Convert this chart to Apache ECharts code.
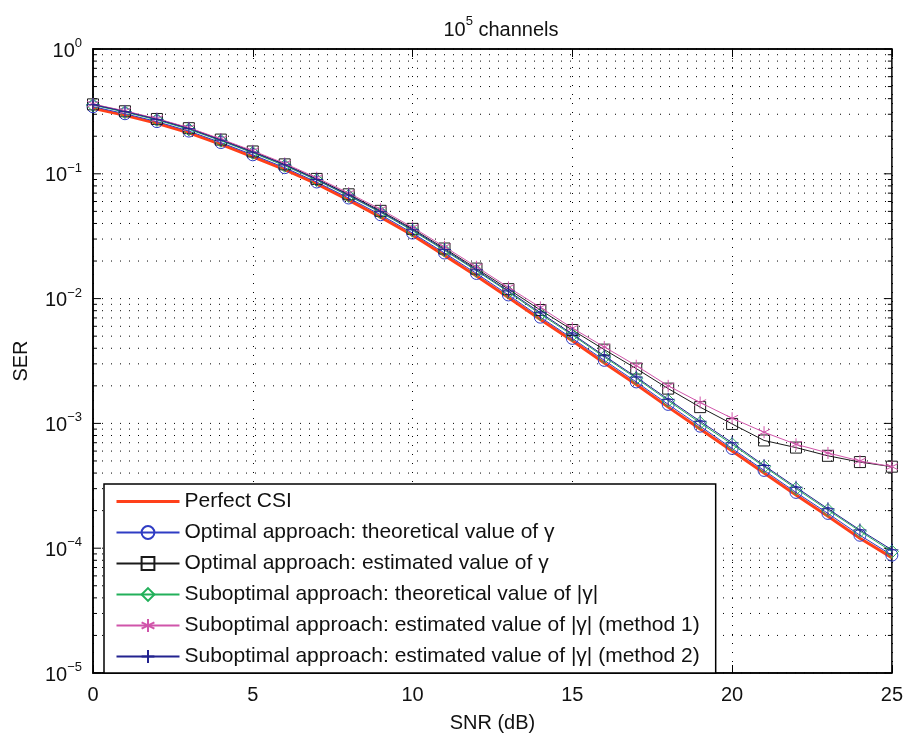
<!DOCTYPE html>
<html>
<head>
<meta charset="utf-8">
<script src="https://cdn.jsdelivr.net/npm/echarts@6/dist/echarts.min.js"></script>
<style>html,body{margin:0;padding:0;background:#fff}#c{width:906px;height:738px}</style>
</head>
<body>
<div id="c"></div>
<script>
// ---- data ----
const snr = [0,1,2,3,4,5,6,7,8,9,10,11,12,13,14,15,16,17,18,19,20,21,22,23,24,25];
const perfectCSI = [0.335,0.294,0.254,0.213,0.172,0.137,0.108,0.083,0.0615,0.045,0.0322,0.0222,0.0152,0.0102,0.0068,0.0046,0.00305,0.00205,0.00135,0.0009,0.0006,0.0004,0.000267,0.00018,0.00012,0.000084];
const optTheo = [0.345,0.303,0.262,0.220,0.178,0.142,0.112,0.086,0.064,0.047,0.0335,0.0232,0.0159,0.0107,0.0071,0.0048,0.0032,0.00215,0.00142,0.00095,0.00063,0.00042,0.00028,0.00019,0.000127,0.000088];
const optEst = [0.36,0.317,0.275,0.232,0.188,0.151,0.119,0.091,0.0685,0.0505,0.0362,0.0252,0.0174,0.0119,0.0081,0.0056,0.0039,0.00275,0.0019,0.00135,0.00099,0.00073,0.00064,0.00055,0.00049,0.00045];
const subTheo = [0.355,0.312,0.27,0.227,0.184,0.147,0.116,0.089,0.0665,0.049,0.035,0.0243,0.0167,0.0113,0.0075,0.0051,0.0034,0.0023,0.00152,0.00101,0.00068,0.00045,0.0003,0.000202,0.000137,0.000094];
const subEst1 = [0.362,0.319,0.277,0.234,0.19,0.153,0.121,0.093,0.07,0.052,0.0372,0.026,0.018,0.0123,0.0085,0.0058,0.0041,0.0029,0.002,0.00147,0.0011,0.00085,0.00068,0.00058,0.0005,0.00045];
const subEst2 = [0.358,0.315,0.273,0.23,0.186,0.149,0.118,0.09,0.0675,0.0497,0.0356,0.0247,0.017,0.0115,0.0077,0.0052,0.00348,0.00235,0.00156,0.00104,0.0007,0.00046,0.000308,0.000207,0.00014,0.000097];
const seriesNames = [
  'Perfect CSI',
  'Optimal approach: theoretical value of γ',
  'Optimal approach: estimated value of γ',
  'Suboptimal approach: theoretical value of |γ|',
  'Suboptimal approach: estimated value of |γ| (method 1)',
  'Suboptimal approach: estimated value of |γ| (method 2)'
];
const xTicks = [0,5,10,15,20,25];
const yDecades = [-5,-4,-3,-2,-1,0];

// ---- grid helper values (log minor lines) ----
const yGridVals = [];
for (let e = -5; e <= 0; e++) {
  for (let m = 1; m <= 9; m++) {
    const v = m * Math.pow(10, e);
    if (v <= 1.0000001) yGridVals.push([0, v, m === 1 ? 1 : 0]);
  }
}

const FONT = 'Liberation Sans, Arial, Helvetica, sans-serif';
const pair = arr => snr.map((x, i) => [x, arr[i]]);

const colors = ['#ff401a', '#2f3cc4', '#1a1a1a', '#22b05a', '#d055aa', '#23238f'];
const asterisk = 'path://M5 0L5 10M0.67 2.5L9.33 7.5M0.67 7.5L9.33 2.5';
const plus = 'path://M5 0L5 10M0 5L10 5';

function mk(idx, data, symbol, size) {
  return {
    name: seriesNames[idx], type: 'line', data: pair(data),
    symbol: symbol, symbolSize: size, showSymbol: true,
    lineStyle: {color: colors[idx], width: 1},
    itemStyle: {color: 'rgba(0,0,0,0)', borderColor: colors[idx], borderWidth: 1},
    z: 3 + idx, animation: false
  };
}

const legendData = seriesNames.map((n, i) => i === 0 ? {name: n, lineStyle: {width: 3, color: colors[0]}} : {name: n});

const chart = echarts.init(document.getElementById('c'), null, {renderer: 'canvas'});
chart.setOption({
  backgroundColor: '#fff',
  animation: false,
  textStyle: {fontFamily: FONT},
  title: {
    text: '{b|10}{s|5}{b| channels}',
    left: 496, top: 10, textAlign: 'center',
    textStyle: {
      fontWeight: 'normal',
      rich: {
        b: {fontSize: 20, fontFamily: FONT, color: '#111', fontWeight: 'normal', lineHeight: 25, verticalAlign: 'bottom'},
        s: {fontSize: 13, fontFamily: FONT, color: '#111', fontWeight: 'normal', lineHeight: 13, verticalAlign: 'top'}
      }
    }
  },
  grid: {left: 93, right: 14, top: 49, bottom: 59, show: true, borderColor: '#000', borderWidth: 1.5, backgroundColor: 'transparent'},
  xAxis: [{
    type: 'value', min: 0, max: 25, interval: 5,
    name: 'SNR (dB)', nameLocation: 'middle', nameGap: 40,
    nameTextStyle: {fontSize: 20, color: '#111', fontFamily: FONT},
    axisLine: {show: true, lineStyle: {color: '#000', width: 1.5}},
    axisTick: {show: true, inside: true, length: 8, lineStyle: {color: '#000'}},
    axisLabel: {fontSize: 20, color: '#111', margin: 12, fontFamily: FONT},
    splitLine: {show: true, lineStyle: {color: '#000', type: [1, 8], width: 1}}
  }, {
    type: 'value', min: 0, max: 25, interval: 5, position: 'top',
    axisLine: {show: true, lineStyle: {color: '#000', width: 1.5}},
    axisTick: {show: true, inside: true, length: 8, lineStyle: {color: '#000'}},
    axisLabel: {show: false}, splitLine: {show: false}
  }],
  yAxis: [{
    type: 'log', logBase: 10, min: 1e-5, max: 1,
    name: 'SER', nameLocation: 'middle', nameGap: 62,
    nameTextStyle: {fontSize: 20, color: '#111', fontFamily: FONT},
    axisLine: {show: true, lineStyle: {color: '#000', width: 1.5}},
    axisTick: {show: false},
    axisLabel: {
      margin: 11, fontFamily: FONT,
      formatter: v => {
        const e = Math.round(Math.log10(v));
        return '{b|10}{s|' + (e < 0 ? '\u2212' + (-e) : e) + '}';
      },
      rich: {
        b: {fontSize: 20, color: '#111', fontFamily: FONT, lineHeight: 24, verticalAlign: 'bottom'},
        s: {fontSize: 13, color: '#111', fontFamily: FONT, lineHeight: 13, verticalAlign: 'top'}
      }
    },
    splitLine: {show: false}
  }],
  legend: {
    orient: 'vertical', left: 104, top: 484,
    data: legendData,
    itemWidth: 63, itemHeight: 16, itemGap: 10,
    padding: [7, 16, 6, 11],
    backgroundColor: '#fff', borderColor: '#000', borderWidth: 1.5,
    textStyle: {fontSize: 21, color: '#111', fontFamily: FONT, lineHeight: 21},
    z: 20
  },
  series: [
    {
      type: 'custom', silent: true, z: 1,
      data: yGridVals, clip: false,
      renderItem: (params, api) => {
        const v = api.value(1);
        const major = api.value(2) === 1;
        const p0 = api.coord([0, v]);
        const p1 = api.coord([25, v]);
        const len = major ? 8 : 4;
        return {
          type: 'group',
          children: [
            {type: 'line', shape: {x1: p0[0], y1: p0[1], x2: p1[0], y2: p1[1]}, style: {stroke: '#000', lineWidth: 1, lineDash: [1, 8]}},
            {type: 'line', shape: {x1: p0[0], y1: p0[1], x2: p0[0] + len, y2: p0[1]}, style: {stroke: '#000', lineWidth: 1}},
            {type: 'line', shape: {x1: p1[0], y1: p1[1], x2: p1[0] - len, y2: p1[1]}, style: {stroke: '#000', lineWidth: 1}}
          ]
        };
      },
      animation: false
    },
    {
      name: seriesNames[0], type: 'line', data: pair(perfectCSI), showSymbol: false, symbol: 'none',
      lineStyle: {color: colors[0], width: 3}, itemStyle: {color: 'rgba(0,0,0,0)', borderColor: 'rgba(0,0,0,0)'}, z: 2, animation: false
    },
    mk(1, optTheo, 'circle', 12),
    mk(2, optEst, 'rect', 11),
    mk(3, subTheo, 'diamond', 13),
    mk(4, subEst1, asterisk, 12),
    mk(5, subEst2, plus, 13)
  ]
});
</script>
</body>
</html>
